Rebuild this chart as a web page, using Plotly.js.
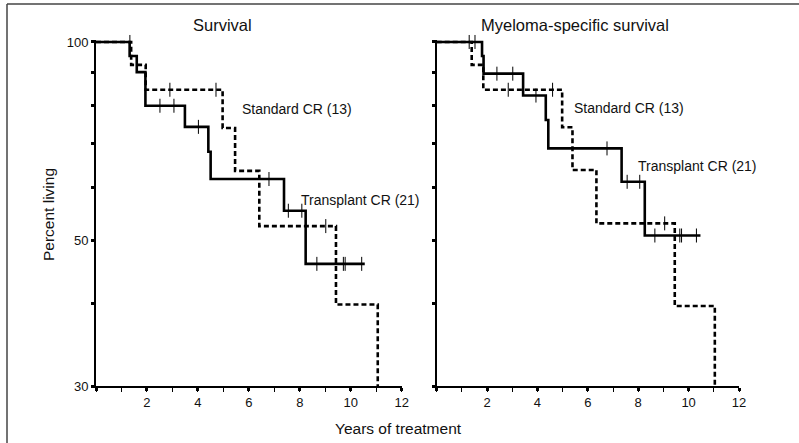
<!DOCTYPE html>
<html>
<head>
<meta charset="utf-8">
<script src="https://cdn.plot.ly/plotly-3.0.1.min.js"></script>
<style>html,body{margin:0;padding:0;background:#fff;}#chart{width:799px;height:443px;}</style>
</head>
<body>
<div id="chart"></div>
<script>
// ---- Data ----
// Left panel: overall survival
const survTransplantT = [0, 1.32, 1.60, 1.94, 3.49, 4.41, 4.50, 7.38, 8.23, 10.55];
const survTransplantS = [100, 95.2, 90.0, 80.0, 74.3, 68.1, 61.9, 55.4, 46.0, 46.0];
const survStandardT   = [0, 1.38, 1.95, 4.97, 5.46, 6.41, 9.42, 11.06];
const survStandardS   = [100, 92.3, 84.6, 74.0, 63.7, 52.5, 39.9, 10];
const survTransplantCensT = [1.33, 2.51, 3.06, 4.02, 6.79, 7.55, 8.08, 8.67, 9.71, 9.78, 10.43];
const survTransplantCensS = [100, 80.0, 80.0, 74.3, 61.9, 55.4, 55.4, 46.0, 46.0, 46.0, 46.0];
const survStandardCensT = [2.90, 4.71, 9.02];
const survStandardCensS = [84.6, 84.6, 52.5];

// Right panel: myeloma-specific survival
const mssTransplantT = [0, 1.80, 1.86, 3.43, 4.33, 4.43, 7.34, 8.26, 10.47];
const mssTransplantS = [100, 95.2, 89.5, 82.9, 76.1, 68.9, 61.3, 50.8, 50.8];
const mssStandardT   = [0, 1.39, 1.85, 4.98, 5.39, 6.34, 9.45, 11.04];
const mssStandardS   = [100, 92.3, 84.6, 74.2, 63.9, 53.0, 39.7, 10];
const mssTransplantCensT = [1.29, 1.52, 2.39, 3.02, 3.94, 6.76, 7.56, 8.06, 8.66, 9.65, 9.72, 10.31];
const mssTransplantCensS = [100, 100, 89.5, 89.5, 82.9, 68.9, 61.3, 61.3, 50.8, 50.8, 50.8, 50.8];
const mssStandardCensT = [2.84, 4.60, 9.05];
const mssStandardCensS = [84.6, 84.6, 53.0];

const xTickVals = [0, 2, 4, 6, 8, 10, 12];
const xTickText = ['', '2', '4', '6', '8', '10', '12'];
const yTickVals = [30, 40, 50, 60, 70, 80, 90, 100];
const yTickText = ['30', '', '50', '', '', '', '', '100'];

const panelTitles = ['Survival', 'Myeloma-specific survival'];
const groupLabels = ['Standard CR (13)', 'Transplant CR (21)'];
const yTitle = 'Percent living';
const xTitle = 'Years of treatment';

// ---- Traces ----
const FONT = 'Liberation Sans, Arial, Helvetica, sans-serif';
const solid = {color: '#000', width: 2.6, shape: 'hv'};
const dashed = {color: '#000', width: 2.6, shape: 'hv', dash: '5px,3px'};
const cens = {symbol: 'line-ns-open', size: 10, color: '#000', line: {color: '#000', width: 1}};

function stepTrace(t, s, line, xa, ya) {
  return {x: t, y: s, type: 'scatter', mode: 'lines', line: line, xaxis: xa, yaxis: ya, hoverinfo: 'skip', showlegend: false};
}
function censTrace(t, s, xa, ya) {
  return {x: t, y: s, type: 'scatter', mode: 'markers', marker: cens, xaxis: xa, yaxis: ya, hoverinfo: 'skip', showlegend: false, cliponaxis: false};
}

const data = [
  stepTrace(survStandardT, survStandardS, dashed, 'x', 'y'),
  stepTrace(survTransplantT, survTransplantS, solid, 'x', 'y'),
  censTrace(survStandardCensT, survStandardCensS, 'x', 'y'),
  censTrace(survTransplantCensT, survTransplantCensS, 'x', 'y'),
  stepTrace(mssStandardT, mssStandardS, dashed, 'x2', 'y2'),
  stepTrace(mssTransplantT, mssTransplantS, solid, 'x2', 'y2'),
  censTrace(mssStandardCensT, mssStandardCensS, 'x2', 'y2'),
  censTrace(mssTransplantCensT, mssTransplantCensS, 'x2', 'y2')
];

// ---- Layout ----
const L = 96, R = 60, T = 40, B = 57, W = 799, H = 443;
const PW = W - L - R, PH = H - T - B;
const px2x = p => (p - L) / PW;
const py2y = p => (H - B - p) / PH;

const xBase = {
  range: [0, 12], tickmode: 'array', tickvals: xTickVals, ticktext: xTickText,
  ticks: 'outside', ticklen: 3, tickwidth: 3, tickcolor: '#000',
  showline: true, linewidth: 2, linecolor: '#000', showgrid: false, zeroline: false,
  tickfont: {family: FONT, size: 13, color: '#111'},
  minor: {tickmode: 'linear', tick0: 0, dtick: 1, ticks: 'outside', ticklen: 4, tickwidth: 1, tickcolor: '#000', showgrid: false}
};
const yBase = {
  type: 'log', range: [Math.log10(30), 2.003], tickmode: 'array', tickvals: yTickVals,
  ticks: 'outside', ticklen: 3, tickwidth: 3, tickcolor: '#000',
  showline: true, linewidth: 2, linecolor: '#000', showgrid: false, zeroline: false,
  tickfont: {family: FONT, size: 13, color: '#111'}
};

const layout = {
  width: W, height: H,
  margin: {l: L, r: R, t: T, b: B},
  paper_bgcolor: '#fff', plot_bgcolor: 'rgba(0,0,0,0)',
  showlegend: false,
  xaxis: Object.assign({}, xBase, {domain: [0, px2x(401.7)], anchor: 'y'}),
  xaxis2: Object.assign({}, xBase, {domain: [px2x(436.7), 1], anchor: 'y2'}),
  yaxis: Object.assign({}, yBase, {domain: [0, 1], anchor: 'x', ticktext: yTickText}),
  yaxis2: Object.assign({}, yBase, {domain: [0, 1], anchor: 'x2', ticktext: yTickVals.map(() => '')}),
  annotations: [
    {text: panelTitles[0], xref: 'x', yref: 'paper', x: 4.95, y: py2y(25), showarrow: false,
     font: {family: FONT, size: 16.5, color: '#111'}, xanchor: 'center', yanchor: 'middle'},
    {text: panelTitles[1], xref: 'x2', yref: 'paper', x: 5.48, y: py2y(25), showarrow: false,
     font: {family: FONT, size: 16.5, color: '#111'}, xanchor: 'center', yanchor: 'middle'},
    {text: groupLabels[0], xref: 'x', yref: 'y', x: 5.65, y: Math.log10(79.1), showarrow: false,
     font: {family: FONT, size: 14, color: '#111'}, xanchor: 'left', yanchor: 'middle'},
    {text: groupLabels[1], xref: 'x', yref: 'y', x: 7.97, y: Math.log10(57.5), showarrow: false,
     font: {family: FONT, size: 14, color: '#111'}, xanchor: 'left', yanchor: 'middle'},
    {text: groupLabels[0], xref: 'x2', yref: 'y2', x: 5.36, y: Math.log10(79.5), showarrow: false,
     font: {family: FONT, size: 14, color: '#111'}, xanchor: 'left', yanchor: 'middle'},
    {text: groupLabels[1], xref: 'x2', yref: 'y2', x: 7.93, y: Math.log10(64.8), showarrow: false,
     font: {family: FONT, size: 14, color: '#111'}, xanchor: 'left', yanchor: 'middle'},
    {text: yTitle, xref: 'paper', yref: 'paper', x: px2x(48), y: py2y(214), textangle: -90, showarrow: false,
     font: {family: FONT, size: 15.5, color: '#111'}, xanchor: 'center', yanchor: 'middle'},
    {text: xTitle, xref: 'paper', yref: 'paper', x: px2x(398), y: py2y(429), showarrow: false,
     font: {family: FONT, size: 15.5, color: '#111'}, xanchor: 'center', yanchor: 'middle'}
  ],
  shapes: [
    {type: 'line', xref: 'paper', yref: 'paper', x0: px2x(7), x1: px2x(7), y0: py2y(4), y1: py2y(445), line: {color: '#444', width: 1.5}},
    {type: 'line', xref: 'paper', yref: 'paper', x0: px2x(7), x1: px2x(800), y0: py2y(4), y1: py2y(4), line: {color: '#444', width: 1.5}}
  ]
};

Plotly.newPlot('chart', data, layout, {staticPlot: true, displayModeBar: false});
</script>
</body>
</html>
